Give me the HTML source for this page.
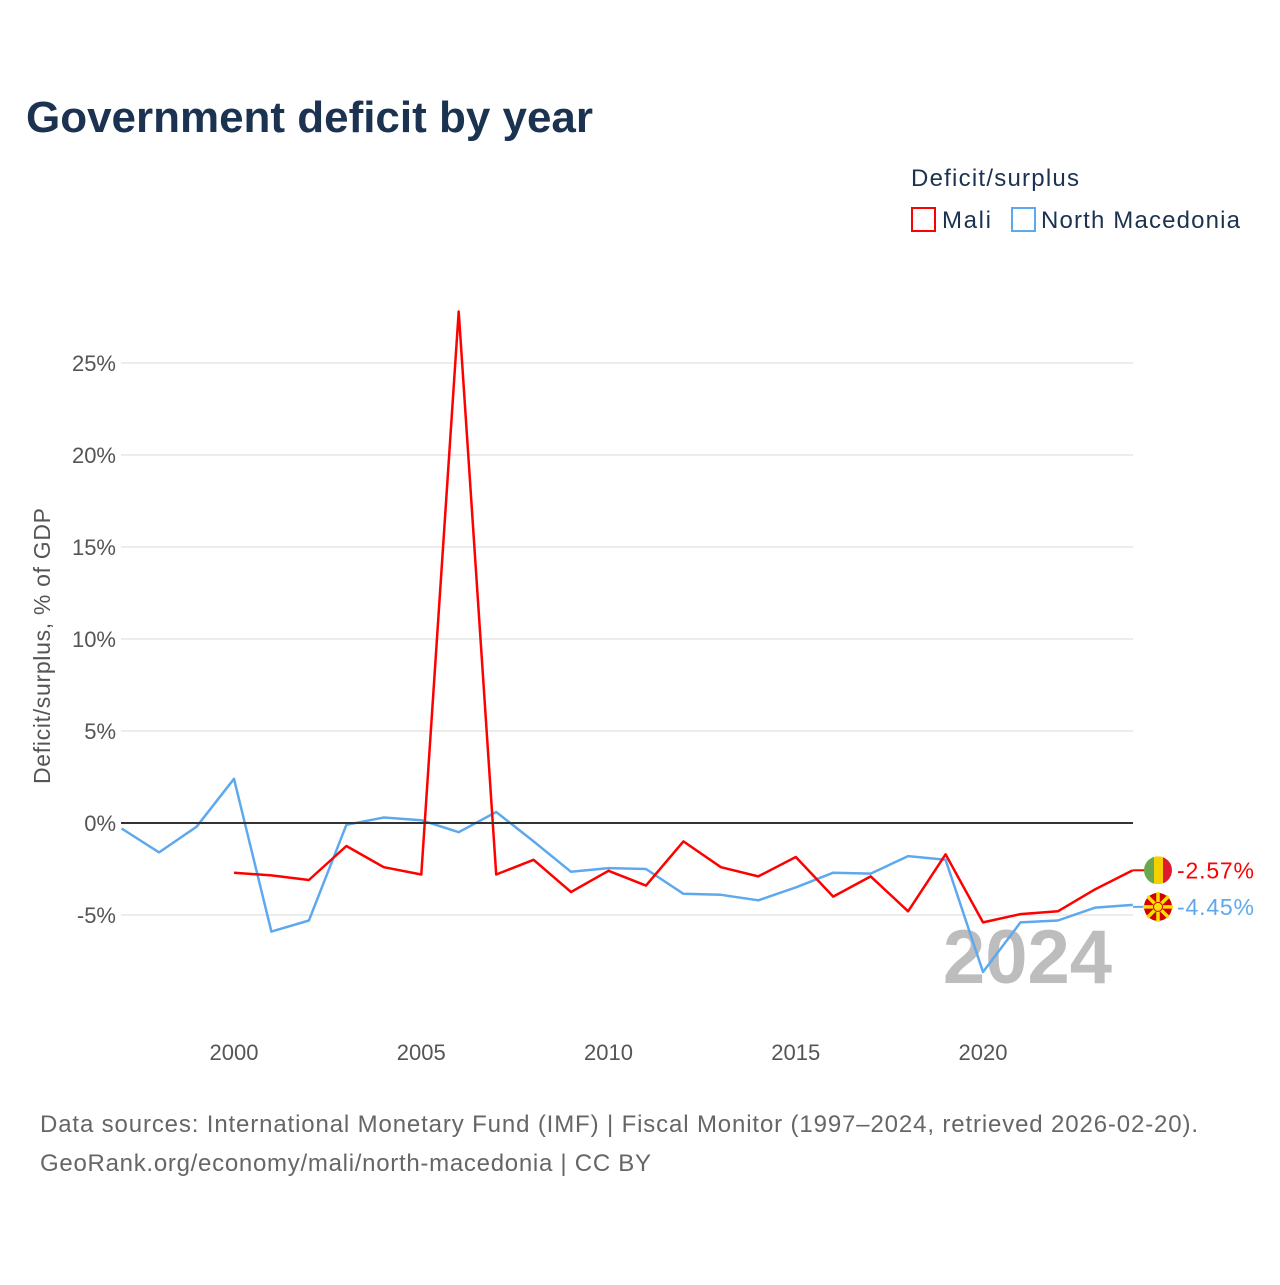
<!DOCTYPE html>
<html><head><meta charset="utf-8"><style>
body{margin:0;background:#fff;width:1280px;height:1280px;overflow:hidden;font-family:"Liberation Sans",sans-serif}
svg text{font-family:"Liberation Sans",sans-serif}
</style></head><body>
<svg width="1280" height="1280">
<text x="26" y="132" font-size="44" font-weight="bold" fill="#1b3250" textLength="567">Government deficit by year</text>
<text x="911" y="186" font-size="24" fill="#1b3250" textLength="168">Deficit/surplus</text>
<g><rect x="912" y="208" width="23" height="23" fill="none" stroke="#ff0000" stroke-width="2"/><text x="942" y="228" font-size="24" fill="#1b3250" textLength="49">Mali</text></g>
<g><rect x="1012" y="208" width="23" height="23" fill="none" stroke="#5ea9ee" stroke-width="2"/><text x="1041" y="228" font-size="24" fill="#1b3250" textLength="199">North Macedonia</text></g>
<g id="grid"></g>
<text x="1112" y="983" font-size="76" font-weight="bold" fill="#bdbdbd" text-anchor="end">2024</text>
<g id="plot"></g>
<text transform="translate(50,646) rotate(-90)" font-size="23" fill="#555" text-anchor="middle" textLength="276">Deficit/surplus, % of GDP</text>
<text x="40" y="1132" font-size="24" fill="#666" textLength="1158">Data sources: International Monetary Fund (IMF) | Fiscal Monitor (1997–2024, retrieved 2026-02-20).</text>
<text x="40" y="1171" font-size="24" fill="#666" textLength="611">GeoRank.org/economy/mali/north-macedonia | CC BY</text>
</svg>
<script>
const years=[1997,1998,1999,2000,2001,2002,2003,2004,2005,2006,2007,2008,2009,2010,2011,2012,2013,2014,2015,2016,2017,2018,2019,2020,2021,2022,2023,2024];
const maliValues=[null,null,null,-2.7,-2.85,-3.1,-1.25,-2.4,-2.8,27.8,-2.8,-2.0,-3.75,-2.6,-3.4,-1.0,-2.4,-2.9,-1.85,-4.0,-2.9,-4.8,-1.7,-5.4,-4.95,-4.8,-3.6,-2.57];
const macedoniaValues=[-0.3,-1.6,-0.2,2.4,-5.9,-5.3,-0.1,0.3,0.15,-0.5,0.6,-1.0,-2.65,-2.45,-2.5,-3.85,-3.9,-4.2,-3.5,-2.7,-2.75,-1.8,-2.0,-8.1,-5.4,-5.3,-4.6,-4.45];
const yTicks=[-5,0,5,10,15,20,25];
const xTicks=[2000,2005,2010,2015,2020];
const NS='http://www.w3.org/2000/svg';
const X=y=>234+(y-2000)*37.45;
const Y=v=>823-v*18.4;
function mk(tag,attrs,parent){const e=document.createElementNS(NS,tag);for(const k in attrs)e.setAttribute(k,attrs[k]);parent.appendChild(e);return e;}
const grid=document.getElementById('grid'),plot=document.getElementById('plot');
yTicks.forEach(t=>{
 if(t!==0){const l=mk('line',{x1:121,x2:1133,y1:Y(t),y2:Y(t),stroke:'#e6e6e6','stroke-width':1.5},grid);
 
 }
 const tx=mk('text',{x:116,y:Y(t)+8,'font-size':22,fill:'#555','text-anchor':'end'},grid);
 tx.textContent=t+'%';
 
 
});
xTicks.forEach(t=>{
 const tx=mk('text',{x:X(t),y:1060,'font-size':22,fill:'#555','text-anchor':'middle'},grid);
 tx.textContent=t;
 
 
});
function series(vals,color,name){
 let d='';vals.forEach((v,i)=>{if(v===null)return;d+=(d?'L':'M')+X(years[i]).toFixed(1)+','+Y(v).toFixed(1);});
 const p=mk('path',{d:d,fill:'none',stroke:color,'stroke-width':2.5,'stroke-linejoin':'round'},plot);
 
 
}
series(macedoniaValues,'#5ea9ee','line-north-macedonia');
series(maliValues,'#ff0000','line-mali');
const zero=mk('line',{x1:121,x2:1133,y1:Y(0),y2:Y(0),stroke:'#333','stroke-width':2},plot);


const mv=maliValues[maliValues.length-1],nv=macedoniaValues[macedoniaValues.length-1];
const my=Y(mv),ny=Y(nv)+2;
const g1=mk('g',{},plot);


mk('line',{x1:1133,x2:1145,y1:my,y2:my,stroke:'#ff0000','stroke-width':2},g1);
mk('clipPath',{id:'c1'},g1);
mk('circle',{cx:1158,cy:my,r:14},g1.lastChild);
const fg=mk('g',{'clip-path':'url(#c1)'},g1);
mk('rect',{x:1144,y:my-14,width:10,height:28,fill:'#6aa84f'},fg);
mk('rect',{x:1154,y:my-14,width:9,height:28,fill:'#f5d000'},fg);
mk('rect',{x:1163,y:my-14,width:10,height:28,fill:'#e01b2e'},fg);
const t1=mk('text',{x:1177,y:my+8,'font-size':23,fill:'#ff0000',textLength:77},g1);t1.textContent=mv.toFixed(2)+'%';
const g2=mk('g',{},plot);


mk('line',{x1:1133,x2:1145,y1:ny,y2:ny,stroke:'#5ea9ee','stroke-width':2},g2);
mk('circle',{cx:1158,cy:ny,r:14,fill:'#d20000'},g2);
for(let a=0;a<8;a++){const an=a*Math.PI/4;mk('line',{x1:1158,y1:ny,x2:1158+15*Math.cos(an),y2:ny+15*Math.sin(an),stroke:'#f8e000','stroke-width':3.5},g2);}
mk('circle',{cx:1158,cy:ny,r:4.5,fill:'#f8e000',stroke:'#d20000','stroke-width':1},g2);
const t2=mk('text',{x:1177,y:ny+8,'font-size':23,fill:'#5ea9ee',textLength:77},g2);t2.textContent=nv.toFixed(2)+'%';
</script>
</body></html>
